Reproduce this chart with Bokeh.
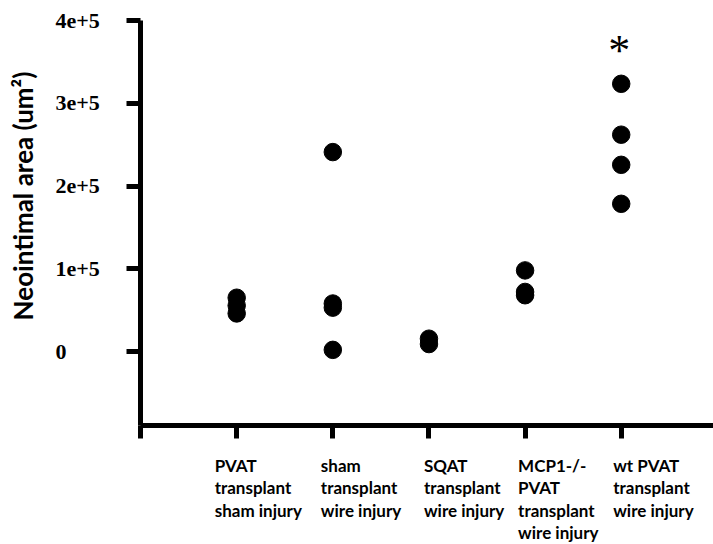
from bokeh.plotting import figure
from bokeh.models import FixedTicker, LinearAxis, Range1d, ColumnDataSource
from bokeh.core.properties import value
from bokeh.embed import file_html
from bokeh.resources import INLINE

# ---- data ----
group_labels = [
    "PVAT\ntransplant\nsham injury",
    "sham\ntransplant\nwire injury",
    "SQAT\ntransplant\nwire injury",
    "MCP1-/-\nPVAT\ntransplant\nwire injury",
    "wt PVAT\ntransplant\nwire injury",
]
group_pos = [1, 2, 3, 4, 5]
pvat_sham = [65000, 55500, 46000]
sham_wire = [241000, 58000, 53000, 2000]
sqat_wire = [15500, 9000]
mcp1_wire = [98000, 72000, 68000]
wt_pvat_wire = [323500, 262000, 225600, 178500]
group_values = [pvat_sham, sham_wire, sqat_wire, mcp1_wire, wt_pvat_wire]
y_ticks = [0, 100000, 200000, 300000, 400000]
y_tick_labels = ["0", "1e+5", "2e+5", "3e+5", "4e+5"]
y_axis_min = -89000          # where the x axis crosses
x_axis_max = 5.96
star_group = 5
star_value = 370000
label_shift_px = [-22, -12, -5, -7, -8]

xs, ys = [], []
for g, vals in zip(group_pos, group_values):
    for v in vals:
        xs.append(g)
        ys.append(v)
src = ColumnDataSource(dict(x=xs, y=ys))

p = figure(width=713, height=544, output_backend="svg", toolbar_location=None,
           x_range=Range1d(-1.457, x_axis_max), y_range=Range1d(-233200, 424170),
           x_axis_location=None, y_axis_location=None, min_border=0)
p.outline_line_color = None
p.grid.visible = False
p.background_fill_color = "white"
p.border_fill_color = "white"

p.scatter("x", "y", source=src, size=17.5, color="black")
p.text(x=[star_group], y=[star_value], text=["*"], text_font=value("Liberation Serif"),
       text_font_size="44px", text_align="center", text_baseline="middle", text_color="black",
       y_offset=5, x_offset=-2)

# y axis (line + ticks)
ya = LinearAxis(ticker=FixedTicker(ticks=y_ticks), fixed_location=0,
                bounds=(y_axis_min, max(y_ticks)),
                major_label_overrides={t: "" for t in y_ticks})
ya.axis_line_width = 5
ya.major_tick_line_width = 5
ya.major_tick_out = 14
ya.major_tick_in = 0
ya.minor_tick_line_color = None
ya.major_label_text_font_size = "1px"
ya.major_label_standoff = 0
p.add_layout(ya, "left")

# y axis title (label-only axis, placed like the original)
yt = LinearAxis(ticker=FixedTicker(ticks=[]), fixed_location=0,
                bounds=(-24400, max(y_ticks)))
yt.axis_line_color = None
yt.major_tick_line_color = None
yt.minor_tick_line_color = None
yt.major_label_text_font_size = "1px"
yt.major_label_standoff = 0
yt.axis_label = "Neointimal area (um\u00b2)"
yt.axis_label_text_font = "Lato"
yt.axis_label_text_font_style = "bold"
yt.axis_label_text_font_size = "26px"
yt.axis_label_text_color = "black"
yt.axis_label_standoff = 102
p.add_layout(yt, "left")

# y tick labels, left aligned as in the original
p.text(x=[0] * len(y_ticks), y=y_ticks, text=y_tick_labels, x_offset=-85,
       text_font=value("Liberation Serif"), text_font_style="bold",
       text_font_size="22px", text_color="black",
       text_align="left", text_baseline="middle")

# x axis (line + ticks)
xa = LinearAxis(ticker=FixedTicker(ticks=[0] + group_pos), fixed_location=y_axis_min,
                bounds=(0, x_axis_max),
                major_label_overrides={t: "" for t in [0] + group_pos})
xa.axis_line_width = 5
xa.major_tick_line_width = 5
xa.major_tick_out = 13
xa.major_tick_in = 0
xa.minor_tick_line_color = None
xa.major_label_text_font_size = "1px"
xa.major_label_standoff = 0
p.add_layout(xa, "below")

# category labels, left aligned multi-line
p.text(x=group_pos, y=[y_axis_min] * len(group_pos), text=group_labels,
       x_offset=label_shift_px, y_offset=30,
       text_font=value("Lato"), text_font_style="bold", text_font_size="17px",
       text_color="black", text_align="left", text_baseline="top",
       text_line_height=1.06)

open("out.html", "w").write(file_html(p, INLINE))
